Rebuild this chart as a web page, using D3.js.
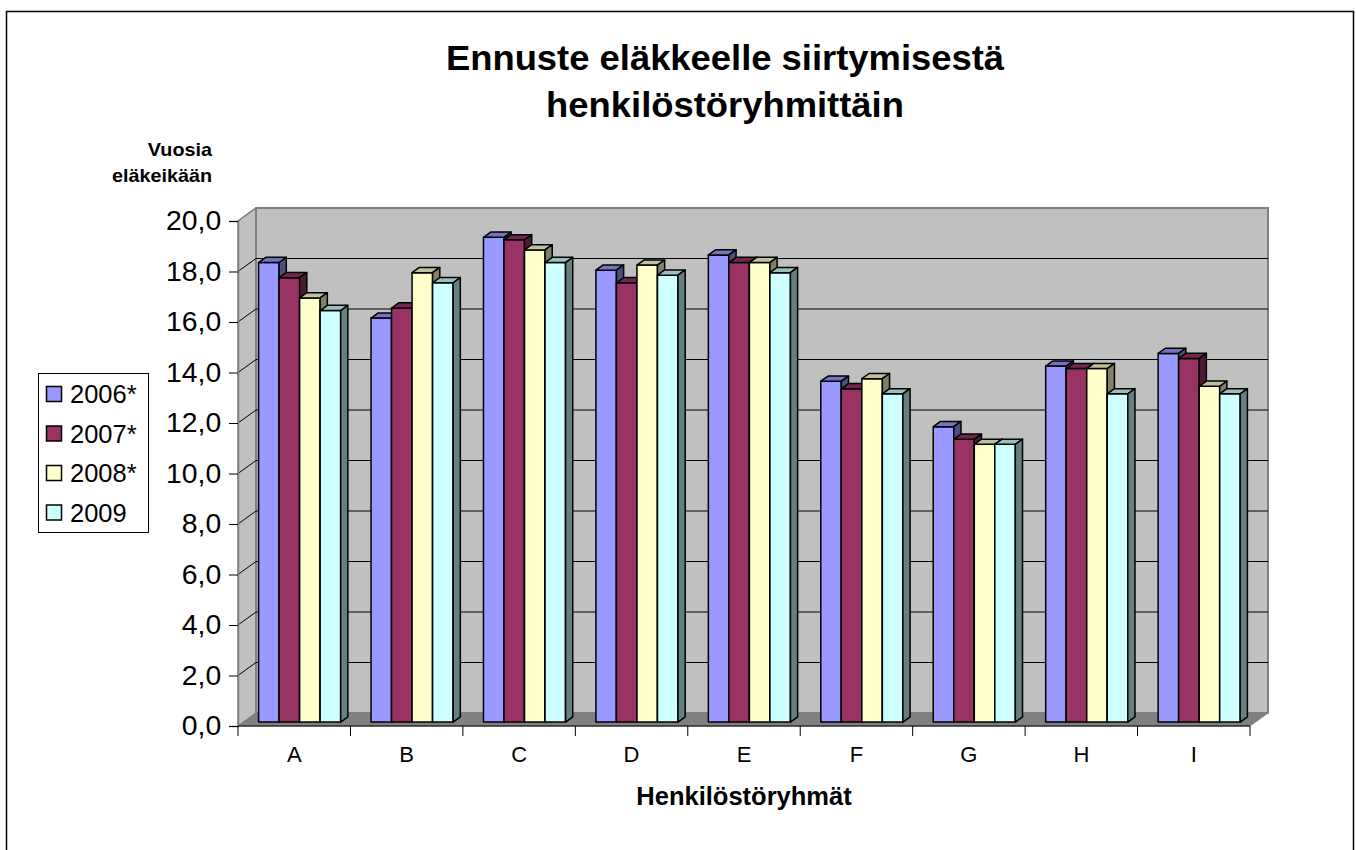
<html>
<head>
<style>
  body { margin: 0; background: #fff; }
  text { font-family: "Liberation Sans", Arial, sans-serif; }
</style>
</head>
<body>
<svg id="chart"></svg>
<script src="https://cdn.jsdelivr.net/npm/d3@7"></script>
<script>
var categories = ["A", "B", "C", "D", "E", "F", "G", "H", "I"];
var seriesNames = ["2006*", "2007*", "2008*", "2009"];
var v2006 = [18.2, 16.0, 19.2, 17.9, 18.5, 13.5, 11.7, 14.1, 14.6];
var v2007 = [17.6, 16.4, 19.1, 17.4, 18.2, 13.2, 11.2, 14.0, 14.4];
var v2008 = [16.8, 17.8, 18.7, 18.1, 18.2, 13.6, 11.0, 14.0, 13.3];
var v2009 = [16.3, 17.4, 18.2, 17.7, 17.8, 13.0, 11.0, 13.0, 13.0];
var yTicks = [0, 2, 4, 6, 8, 10, 12, 14, 16, 18, 20];

var values = [v2006, v2007, v2008, v2009];
var colors = [
  {front: "#9999ff", top: "#7373c0", side: "#4d4d80"},
  {front: "#993366", top: "#73264d", side: "#4d1a33"},
  {front: "#ffffcc", top: "#bfbf99", side: "#808066"},
  {front: "#ccffff", top: "#99bfbf", side: "#668080"}
];

var width = 1356, height = 850;
var svg = d3.select("svg#chart")
    .attr("width", width)
    .attr("height", height);

// outer frame
svg.append("rect")
    .attr("x", 6.5).attr("y", 11.5)
    .attr("width", 1347).attr("height", 850)
    .attr("fill", "#fff").attr("stroke", "#000").attr("stroke-width", 1.5);

// depth offsets of the 3d box
var DX = 18, DY = 13;
function proj(x, y, z) { return [x + z * DX, y - z * DY]; }
function poly(pts) { return pts.map(function(p) { return p.join(","); }).join(" "); }

var x = d3.scaleBand().domain(categories).range([238, 1250]).padding(0);
var xs = d3.scaleBand().domain(seriesNames).range([0, x.bandwidth()]).paddingOuter(0.74).paddingInner(0);
var y = d3.scaleLinear().domain([0, 20]).range([726, 221]);

var x0 = x.range()[0], x1 = x.range()[1];

// walls
var walls = svg.append("g");
// left side wall
walls.append("polygon")
    .attr("points", poly([proj(x0, y(0), 0), proj(x0, y(20), 0), proj(x0, y(20), 1), proj(x0, y(0), 1)]))
    .attr("fill", "#c0c0c0").attr("stroke", "#808080").attr("stroke-width", 1.5);
// back wall
walls.append("polygon")
    .attr("points", poly([proj(x0, y(0), 1), proj(x0, y(20), 1), proj(x1, y(20), 1), proj(x1, y(0), 1)]))
    .attr("fill", "#c0c0c0").attr("stroke", "#808080").attr("stroke-width", 2);
// floor
walls.append("polygon")
    .attr("points", poly([proj(x0, y(0), 0), proj(x1, y(0), 0), proj(x1, y(0), 1), proj(x0, y(0), 1)]))
    .attr("fill", "#808080").attr("stroke", "#808080").attr("stroke-width", 1);

// gridlines on back wall and side wall
var grid = svg.append("g").attr("stroke", "#000").attr("stroke-width", 1);
yTicks.filter(function(d) { return d > 0 && d < 20; }).forEach(function(d) {
    var a = proj(x0, y(d), 1), b = proj(x1, y(d), 1), c = proj(x0, y(d), 0);
    grid.append("line").attr("x1", a[0]).attr("y1", a[1]).attr("x2", b[0]).attr("y2", b[1]);
    grid.append("line").attr("x1", c[0]).attr("y1", c[1]).attr("x2", a[0]).attr("y2", a[1]);
});

// bars
var Z0 = 0.3, Z1 = 0.7;
var bars = svg.append("g").attr("stroke", "#000").attr("stroke-width", 1.5).attr("stroke-linejoin", "round");
categories.forEach(function(cat, ci) {
    seriesNames.forEach(function(s, si) {
        var v = values[si][ci];
        var l = x(cat) + xs(s), r = l + xs.bandwidth();
        var t = y(v), b = y(0);
        var col = colors[si];
        var g = bars.append("g");
        g.append("polygon")
            .attr("points", poly([proj(l, b, Z0), proj(l, t, Z0), proj(r, t, Z0), proj(r, b, Z0)]))
            .attr("fill", col.front);
        g.append("polygon")
            .attr("points", poly([proj(l, t, Z0), proj(l, t, Z1), proj(r, t, Z1), proj(r, t, Z0)]))
            .attr("fill", col.top);
        g.append("polygon")
            .attr("points", poly([proj(r, b, Z0), proj(r, t, Z0), proj(r, t, Z1), proj(r, b, Z1)]))
            .attr("fill", col.side);
    });
});

// y axis
var yAxis = svg.append("g")
    .attr("transform", "translate(" + x0 + ",0)")
    .call(d3.axisLeft(y).tickValues(yTicks).tickSize(9).tickPadding(7)
        .tickFormat(function(d) { return d3.format(".1f")(d).replace(".", ","); }));
yAxis.select(".domain").attr("stroke", "#808080").attr("stroke-width", 1.5);
yAxis.selectAll(".tick line").attr("stroke", "#000");
yAxis.selectAll(".tick text")
    .attr("font-family", "Liberation Sans, Arial, sans-serif")
    .attr("font-size", 27).attr("fill", "#000")
    .attr("transform", "scale(1.05,1)");

// x axis
var xAxis = svg.append("g");
xAxis.append("line")
    .attr("x1", x0).attr("x2", x1).attr("y1", y(0)).attr("y2", y(0))
    .attr("stroke", "#000").attr("stroke-width", 1);
var bounds = categories.map(function(c) { return x(c); }).concat([x1]);
xAxis.selectAll("line.tk").data(bounds).enter().append("line")
    .attr("class", "tk")
    .attr("x1", function(d) { return d; }).attr("x2", function(d) { return d; })
    .attr("y1", y(0)).attr("y2", y(0) + 10)
    .attr("stroke", "#000");
xAxis.selectAll("text").data(categories).enter().append("text")
    .attr("x", function(d) { return x(d) + x.bandwidth() / 2; })
    .attr("y", 762)
    .attr("text-anchor", "middle")
    .attr("font-size", 22)
    .text(function(d) { return d; });

// texts
function label(str, px, py, size, anchor, sx) {
    svg.append("text")
        .attr("transform", "translate(" + px + "," + py + ") scale(" + sx + ",1)")
        .attr("text-anchor", anchor)
        .attr("font-size", size)
        .attr("font-weight", "bold")
        .text(str);
}
label("Ennuste eläkkeelle siirtymisestä", 725, 70, 35, "middle", 1.04);
label("henkilöstöryhmittäin", 725, 117, 35, "middle", 1.04);
label("Vuosia", 212, 156, 18, "end", 1.1);
label("eläkeikään", 212, 182, 18, "end", 1.1);
label("Henkilöstöryhmät", 744, 805, 25.5, "middle", 1.0);

// legend
var legend = svg.append("g");
legend.append("rect")
    .attr("x", 38.5).attr("y", 373.5).attr("width", 110).attr("height", 159)
    .attr("fill", "#fff").attr("stroke", "#000").attr("stroke-width", 1);
var li = legend.selectAll("g.item").data(seriesNames).enter().append("g")
    .attr("class", "item")
    .attr("transform", function(d, i) { return "translate(46," + (394 + i * 39.5) + ")"; });
li.append("rect")
    .attr("x", 0.5).attr("y", -7.5).attr("width", 15).attr("height", 15)
    .attr("fill", function(d, i) { return colors[i].front; })
    .attr("stroke", "#000").attr("stroke-width", 1.5);
li.append("text")
    .attr("x", 24).attr("y", 9)
    .attr("font-size", 25.5)
    .text(function(d) { return d; });
</script>
</body>
</html>
